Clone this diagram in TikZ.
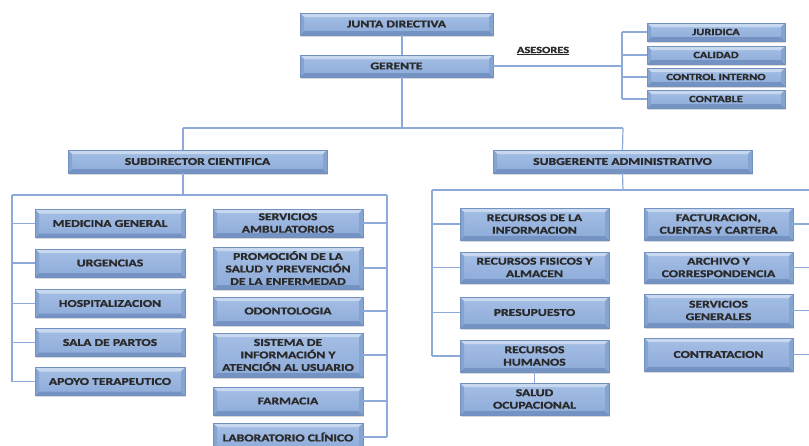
\documentclass[tikz,border=0pt]{standalone}
\usepackage{fontspec}
\newfontfamily\cajafont{Carlito}[FakeStretch=1.3, BoldFont={Carlito Bold}, BoldFeatures={FakeStretch=1.3, FakeBold=1.5}]
\usepackage{tikz}
\usetikzlibrary{positioning,calc,shadows}
\definecolor{linea}{HTML}{8EAADB}
\definecolor{borde}{HTML}{7391C0}
\definecolor{claro}{HTML}{C8D8EF}
\definecolor{arriba}{HTML}{A5BFE5}
\definecolor{abajo}{HTML}{8DABD9}
\definecolor{lado}{HTML}{86A4D1}
\definecolor{oscuro}{HTML}{7593C2}
\definecolor{texto}{HTML}{2A2A2A}
\tikzset{bisel/.style={path picture={
  \path (path picture bounding box.south west) coordinate (sw)
        (path picture bounding box.north east) coordinate (ne);
  \fill[claro] (sw|-ne) -- (ne) -- ([xshift=-4pt,yshift=-4pt]ne) -- ([xshift=4pt,yshift=-4pt]sw|-ne) -- cycle;
  \fill[oscuro] (sw) -- (ne|-sw) -- ([xshift=-4pt,yshift=4pt]ne|-sw) -- ([xshift=4pt,yshift=4pt]sw) -- cycle;
  \fill[lado] (sw) -- (sw|-ne) -- ([xshift=4pt,yshift=-4pt]sw|-ne) -- ([xshift=4pt,yshift=4pt]sw) -- cycle;
  \fill[lado] (ne|-sw) -- (ne) -- ([xshift=-4pt,yshift=-4pt]ne) -- ([xshift=-4pt,yshift=4pt]ne|-sw) -- cycle;
}}}
\tikzstyle{cargo} = [rectangle, draw=borde, top color=arriba, bottom color=abajo, bisel,
drop shadow={opacity=0.3, shadow xshift=1pt, shadow yshift=-1.5pt}, text=texto, align=center, inner sep=1pt,
font=\cajafont\bfseries\fontsize{10.5}{12.5}\selectfont]
\tikzstyle{jefe} = [cargo, minimum width=193pt, minimum height=22pt]
\tikzstyle{sub} = [cargo, minimum width=259pt, minimum height=23pt]
\tikzstyle{asesor} = [cargo, minimum width=138pt, minimum height=18pt, font=\cajafont\bfseries\fontsize{9.5}{10}\selectfont]
\tikzstyle{unidad} = [cargo, minimum width=150pt, minimum height=28pt]
\tikzstyle{conector} = [draw=linea, line width=1.2pt]

\begin{document}
\begin{tikzpicture}[x=1pt,y=-1pt]
\useasboundingbox (0,0) rectangle (809,445);
% direccion
\node (junta) at (396.5,24) [jefe] {JUNTA DIRECTIVA};
\node (gerente) at (396.5,66) [jefe] {GERENTE};
\node (asesores) at (543,51) [text=texto, font=\cajafont\bfseries\fontsize{9.5}{10}\selectfont] {\underline{ASESORES}};
\node (juridica) at (716,32) [asesor] {JURIDICA};
\node (calidad) at (716,55) [asesor] {CALIDAD};
\node (control) at (716,77) [asesor] {CONTROL INTERNO};
\node (contable) at (716,99) [asesor] {CONTABLE};
\node (cient) at (197.5,161.5) [sub] {SUBDIRECTOR CIENTIFICA};
\node (admin) at (622.5,161.5) [sub] {SUBGERENTE ADMINISTRATIVO};
% area cientifica
\node (medicina) at (110,223.5) [unidad] {MEDICINA GENERAL};
\node (urgencias) at (110,263) [unidad] {URGENCIAS};
\node (hosp) at (110,303.5) [unidad] {HOSPITALIZACION};
\node (partos) at (110,342.5) [unidad] {SALA DE PARTOS};
\node (apoyo) at (110,381.5) [unidad] {APOYO TERAPEUTICO};
\node (ambul) at (288,223) [unidad] {SERVICIOS\\AMBULATORIOS};
\node (promo) at (288,268) [unidad, minimum height=42pt] {PROMOCIÓN DE LA\\SALUD Y PREVENCIÓN\\DE LA ENFERMEDAD};
\node (odonto) at (288,311) [unidad] {ODONTOLOGIA};
\node (siau) at (288,355) [unidad, minimum height=44pt] {SISTEMA DE\\INFORMACIÓN Y\\ATENCIÓN AL USUARIO};
\node (farmacia) at (288,401) [unidad] {FARMACIA};
\node (lab) at (288,437) [unidad] {LABORATORIO CLÍNICO};
% area administrativa
\node (recinfo) at (534.5,224) [unidad, minimum width=149pt, minimum height=32pt] {RECURSOS DE LA\\INFORMACION};
\node (recfis) at (534.5,267.5) [unidad, minimum width=149pt, minimum height=31pt] {RECURSOS FISICOS Y\\ALMACEN};
\node (presup) at (534.5,312.5) [unidad, minimum width=149pt, minimum height=31pt] {PRESUPUESTO};
\node (rrhh) at (534.5,356) [unidad, minimum width=149pt, minimum height=32pt] {RECURSOS\\HUMANOS};
\node (salud) at (534.5,399) [unidad, minimum width=149pt, minimum height=32pt] {SALUD\\OCUPACIONAL};
\node (factur) at (718.5,224) [unidad, minimum width=149pt, minimum height=32pt] {FACTURACION,\\CUENTAS Y CARTERA};
\node (archivo) at (718.5,267.5) [unidad, minimum width=149pt, minimum height=31pt] {ARCHIVO Y\\CORRESPONDENCIA};
\node (servgen) at (718.5,310.5) [unidad, minimum width=149pt, minimum height=33pt] {SERVICIOS\\GENERALES};
\node (contrat) at (718.5,354.5) [unidad, minimum width=149pt, minimum height=33pt] {CONTRATACION};
% puntos de las lineas
\coordinate (eje) at (402,128);
\coordinate (ases) at (622,66);
\coordinate (izq) at (183,128);
\coordinate (der) at (623,128);
\coordinate (bA) at (183,195);
\coordinate (bA1) at (12,195);
\coordinate (bA2) at (387,195);
\coordinate (bB) at (623,190);
\coordinate (bB1) at (432,190);
\coordinate (bB2) at (809,190);
% lineas
\draw[conector] (junta.south -| eje) -- (gerente.north -| eje);
\draw[conector] (gerente.south -| eje) -- (eje);
\draw[conector] (gerente.east) -- (ases);
\draw[conector] (ases |- juridica) -- (ases |- contable);
\foreach \n in {juridica,calidad,control,contable}
  \draw[conector] (ases |- \n) -- (\n.west);
\draw[conector] (izq) -- (der);
\draw[conector] (izq) -- (izq |- cient.north);
\draw[conector] (der) -- (admin.north);
\draw[conector] (cient.south -| bA) -- (bA);
\draw[conector] (bA1) -- (bA2);
\draw[conector] (bA1) -- (bA1 |- apoyo);
\draw[conector] (bA2) -- (bA2 |- lab);
\foreach \n in {medicina,urgencias,hosp,partos,apoyo}
  \draw[conector] (bA1 |- \n) -- (\n.west);
\foreach \n in {ambul,promo,odonto,siau,farmacia,lab}
  \draw[conector] (\n.east) -- (bA2 |- \n);
\draw[conector] (admin.south) -- (bB);
\draw[conector] (bB1) -- (bB2);
\draw[conector] (bB1) -- (bB1 |- rrhh);
\foreach \n in {recinfo,recfis,presup,rrhh}
  \draw[conector] (bB1 |- \n) -- (\n.west);
\foreach \n in {factur,archivo,servgen,contrat}
  \draw[conector] (\n.east) -- (bB2 |- \n);
\draw[conector] (rrhh.south) -- (salud.north);
\end{tikzpicture}
\end{document}
